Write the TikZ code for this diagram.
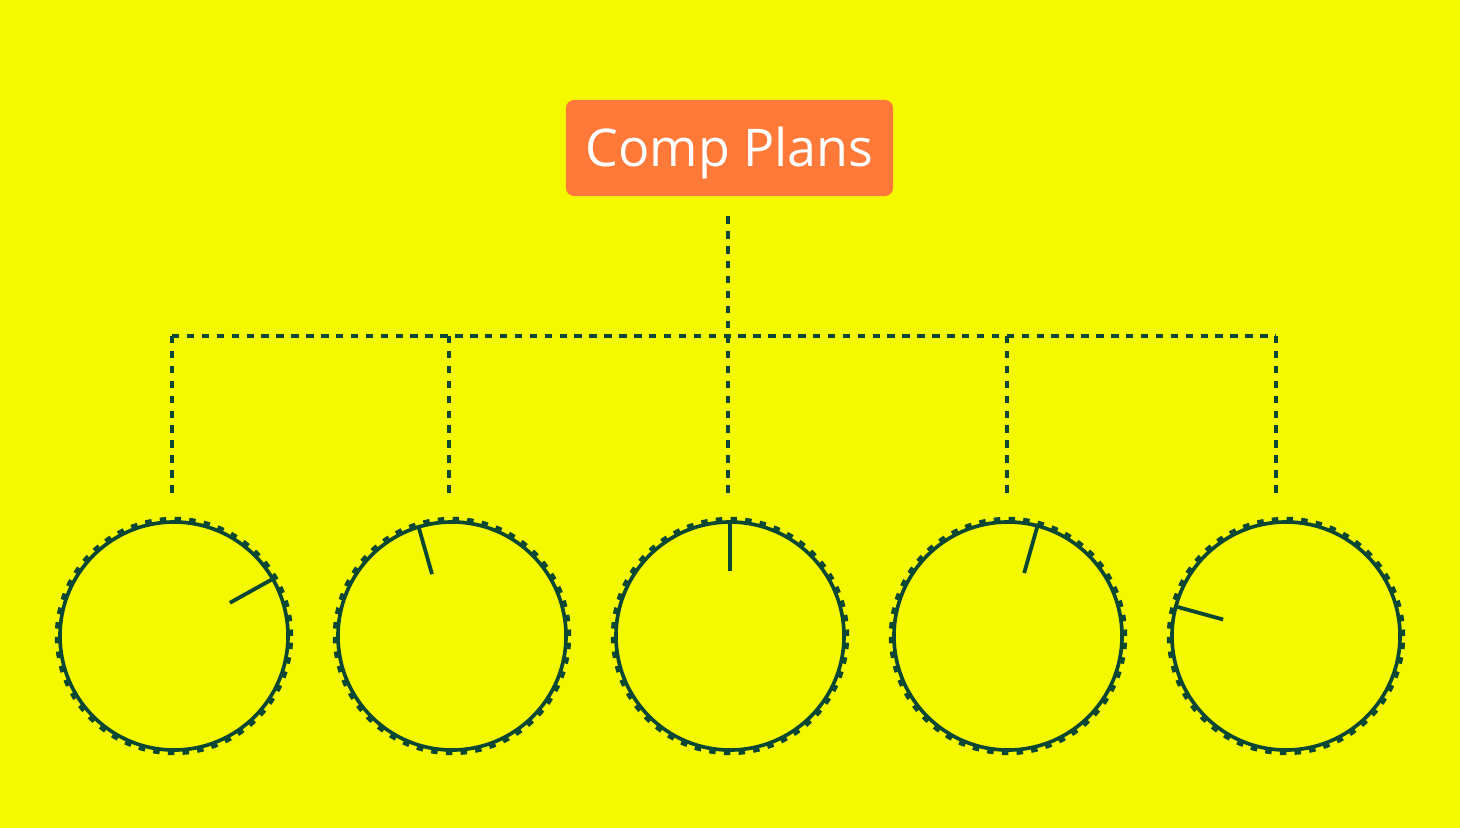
\documentclass[tikz,border=0pt]{standalone}
\usepackage{fontspec}
\setmainfont{Open Sans}
\usepackage{xcolor}
\definecolor{lemon}{HTML}{F5F900}
\definecolor{tangerine}{HTML}{FF7939}
\definecolor{pine}{HTML}{0C4733}
\usepackage{tikz}
\usetikzlibrary{calc}

\begin{document}
\begin{tikzpicture}[
  x=0.025cm,
  y=-0.025cm,
  title/.style={fill=tangerine, rounded corners=0.2cm, minimum width=8.175cm, minimum height=2.4cm, text=white, font=\fontsize{37}{44}\selectfont, text height=31.6pt, text depth=5.4pt, inner sep=0pt},
  knob/.style={circle, draw=pine, line width=2.6pt, minimum size=5.7cm, inner sep=0pt},
  ring/.style={pine, line width=2.8pt, dash pattern=on 4.6pt off 5.9pt},
  link/.style={pine, line width=2.6pt, dash pattern=on 5.3pt off 5.3pt},
  needle/.style={pine, line width=2.7pt},
]

% Canvas
\fill[lemon] (0,0) rectangle (1460,828);
\useasboundingbox (0,0) rectangle (1460,828);

% Title box
\node[title] (plans) at (729.5,148) {Comp Plans};

% Knobs with their pointers
\foreach \i/\x/\a in {1/174/30.7, 2/452/107.9, 3/730/90, 4/1008/75.6, 5/1286/165.3} {
  \node[knob] (knob\i) at (\x,636) {};
  \draw[ring] (knob\i.center) circle[radius=2.93cm];
  \draw[needle] ($(knob\i.center)+(\a:1.625cm)$) -- (knob\i.\a);
}

% Bus coordinates
\coordinate (bus1) at (172,336);
\coordinate (bus2) at (449,336);
\coordinate (bus3) at (728,336);
\coordinate (bus4) at (1007,336);
\coordinate (bus5) at (1276,336);

% Connectors
\draw[link, shorten <=0.5cm] (plans.south -| bus3) -- (bus3);
\draw[link] (bus1) -- (bus5);
\foreach \i in {1,...,5}
  \draw[link, shorten >=0.52cm] (bus\i) -- (bus\i |- knob\i.north);

\end{tikzpicture}
\end{document}
